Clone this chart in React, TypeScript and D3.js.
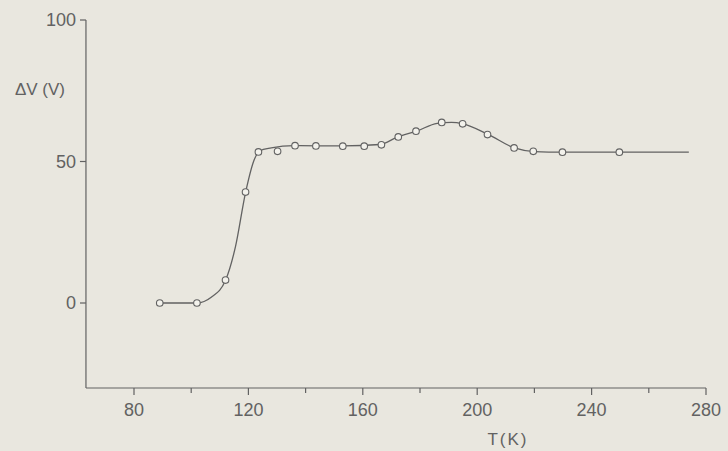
import React, { useEffect, useRef } from 'react';
import * as d3 from 'd3';

// measured points (open circles)
const pointT = [89, 102, 112, 119, 123.5, 130.2, 136.3, 143.6, 153, 160.5, 166.5, 172.4, 178.6, 187.6, 194.9, 203.6, 212.9, 219.6, 229.8, 249.7];
const pointV = [0, 0, 8.1, 39.2, 53.4, 53.6, 55.6, 55.5, 55.4, 55.4, 55.9, 58.7, 60.7, 63.8, 63.3, 59.5, 54.8, 53.6, 53.3, 53.3];

// hand-drawn smooth curve through the data
const curveT = [89, 102, 107, 112, 115.5, 119, 122, 124, 128, 136, 153, 166, 172, 179, 186, 191, 195, 204, 213, 220, 230, 274];
const curveV = [0, 0, 2, 8, 20, 39, 50.5, 53.8, 54.8, 55.6, 55.5, 56, 58.6, 60.8, 63.5, 63.8, 63.3, 59.5, 54.8, 53.5, 53.3, 53.3];

const xTicks = [80, 100, 120, 140, 160, 180, 200, 220, 240, 260, 280];
const xLabels = [80, 120, 160, 200, 240, 280];
const yTicks = [0, 50, 100];

const W = 728;
const H = 451;
const ink = '#626262';
const font = '"Liberation Sans", Arial, sans-serif';

export default function App() {
  const ref = useRef<SVGSVGElement>(null);

  useEffect(() => {
    const svg = d3.select(ref.current);
    svg.selectAll('*').remove();

    const x = d3.scaleLinear().domain([80, 280]).range([134, 706]);
    const y = d3.scaleLinear().domain([0, 100]).range([303, 20]);
    const x0 = x(63.2);
    const yBottom = 388;

    svg.append('rect').attr('width', W).attr('height', H).attr('fill', '#e9e7df');

    const axes = svg.append('g').attr('stroke', ink).attr('stroke-width', 1.2).attr('fill', 'none');
    // axis lines
    axes.append('line').attr('x1', x0).attr('x2', x0).attr('y1', y(100)).attr('y2', yBottom);
    axes.append('line').attr('x1', x0).attr('x2', x(280)).attr('y1', yBottom).attr('y2', yBottom);

    axes.selectAll('.xt').data(xTicks).enter().append('line')
      .attr('x1', d => x(d)).attr('x2', d => x(d))
      .attr('y1', yBottom).attr('y2', d => yBottom + (xLabels.includes(d) ? 7 : 5));

    axes.selectAll('.yt').data(yTicks).enter().append('line')
      .attr('x1', x0 - 6).attr('x2', x0)
      .attr('y1', d => y(d)).attr('y2', d => y(d));

    const txt = svg.append('g').attr('fill', ink).attr('font-family', font).attr('font-size', 18);

    txt.selectAll('.xl').data(xLabels).enter().append('text')
      .attr('x', d => x(d)).attr('y', 416)
      .attr('text-anchor', 'middle')
      .text(d => d);

    txt.selectAll('.yl').data(yTicks).enter().append('text')
      .attr('x', x0 - 10).attr('y', d => y(d) + 6)
      .attr('text-anchor', 'end')
      .text(d => d);

    txt.append('text').attr('x', 40).attr('y', 95).attr('text-anchor', 'middle')
      .attr('font-size', 17).text('ΔV (V)');
    txt.append('text').attr('x', 508).attr('y', 445).attr('text-anchor', 'middle')
      .attr('font-size', 17).attr('letter-spacing', 2).text('T(K)');

    const line = d3.line<number>()
      .x((d, i) => x(curveT[i]))
      .y(d => y(d))
      .curve(d3.curveMonotoneX);

    svg.append('path').datum(curveV)
      .attr('d', line)
      .attr('fill', 'none').attr('stroke', ink).attr('stroke-width', 1.3);

    svg.append('g').selectAll('circle').data(pointV).enter().append('circle')
      .attr('cx', (d, i) => x(pointT[i]))
      .attr('cy', d => y(d))
      .attr('r', 3.3)
      .attr('fill', '#f3f2ec')
      .attr('stroke', ink)
      .attr('stroke-width', 1.1);
  }, []);

  return (
    <svg ref={ref} width={W} height={H} style={{ position: 'fixed', left: 0, top: 0 }} />
  );
}
